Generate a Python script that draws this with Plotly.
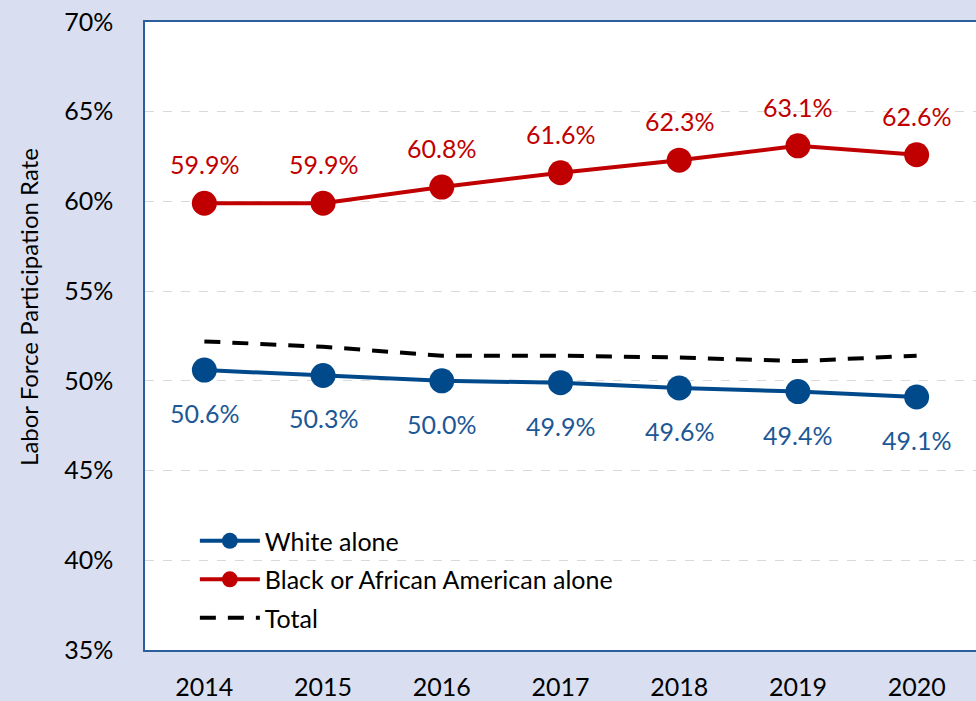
import plotly.graph_objects as go

years = [2014, 2015, 2016, 2017, 2018, 2019, 2020]
white = [50.6, 50.3, 50.0, 49.9, 49.6, 49.4, 49.1]
black = [59.9, 59.9, 60.8, 61.6, 62.3, 63.1, 62.6]
total = [52.2, 51.9, 51.4, 51.4, 51.3, 51.1, 51.4]
y_ticks = [35, 40, 45, 50, 55, 60, 65, 70]
y_tick_labels = [f"{v}%" for v in y_ticks]

BLUE = "#004A8B"
BLUE_TXT = "#1C5796"
RED = "#C00000"
BG = "#D9DFF1"
AXIS = "#2C5E9B"
FONT = "Lato, 'Noto Sans', sans-serif"

fig = go.Figure()
fig.add_trace(go.Scatter(
    x=years, y=white, name="White alone", mode="lines+markers", legendgroup="w",
    line=dict(color=BLUE, width=4), marker=dict(color=BLUE, size=25),
))
fig.add_trace(go.Scatter(
    x=years, y=black, name="Black or African American alone", mode="lines+markers",
    legendgroup="b",
    line=dict(color=RED, width=4), marker=dict(color=RED, size=25),
))
fig.add_trace(go.Scatter(
    x=years, y=total, name="Total", mode="lines", legendgroup="t",
    line=dict(color="black", width=4, dash="16px,12px"),
))

for x, v in zip(years, black):
    fig.add_annotation(x=x, y=v, text=f"{v:.1f}%", showarrow=False, yshift=39,
                       font=dict(family=FONT, size=25, color=RED))
for x, v in zip(years, white):
    fig.add_annotation(x=x, y=v, text=f"{v:.1f}%", showarrow=False, yshift=-43,
                       font=dict(family=FONT, size=25, color=BLUE_TXT))

fig.add_annotation(xref="paper", yref="paper", x=-0.141, y=0.546,
                   text="Labor Force Participation Rate", textangle=-90,
                   showarrow=False, xanchor="center", yanchor="middle",
                   font=dict(family=FONT, size=24, color="black"))

fig.update_layout(
    width=976, height=701,
    margin=dict(l=145, r=0, t=22, b=47),
    paper_bgcolor=BG, plot_bgcolor="white",
    font=dict(family=FONT, size=25, color="black"),
    showlegend=True,
    legend=dict(x=0.06, y=0.21, xanchor="left", yanchor="top",
                bgcolor="rgba(0,0,0,0)", font=dict(size=25, family=FONT),
                itemwidth=60, tracegroupgap=3),
    xaxis=dict(range=[2013.5, 2020.5], tickmode="array", tickvals=years,
               ticktext=[str(y) for y in years], showgrid=False,
               showline=True, linecolor=AXIS, linewidth=1.5, mirror=True,
               ticks="", ticklabelstandoff=14, zeroline=False,
               tickfont=dict(size=25, family=FONT)),
    yaxis=dict(range=[35, 70], tickmode="array", tickvals=y_ticks,
               ticktext=y_tick_labels, showgrid=True, gridcolor="#D9D9D9",
               griddash="dash", gridwidth=1, showline=True, linecolor=AXIS,
               linewidth=1.5, ticks="", ticklabelstandoff=25, zeroline=False,
               tickfont=dict(size=25, family=FONT)),
)

fig.write_html("out.html", config={"displayModeBar": False},
               post_script="document.body.style.margin='0px';document.body.style.padding='0px';")
